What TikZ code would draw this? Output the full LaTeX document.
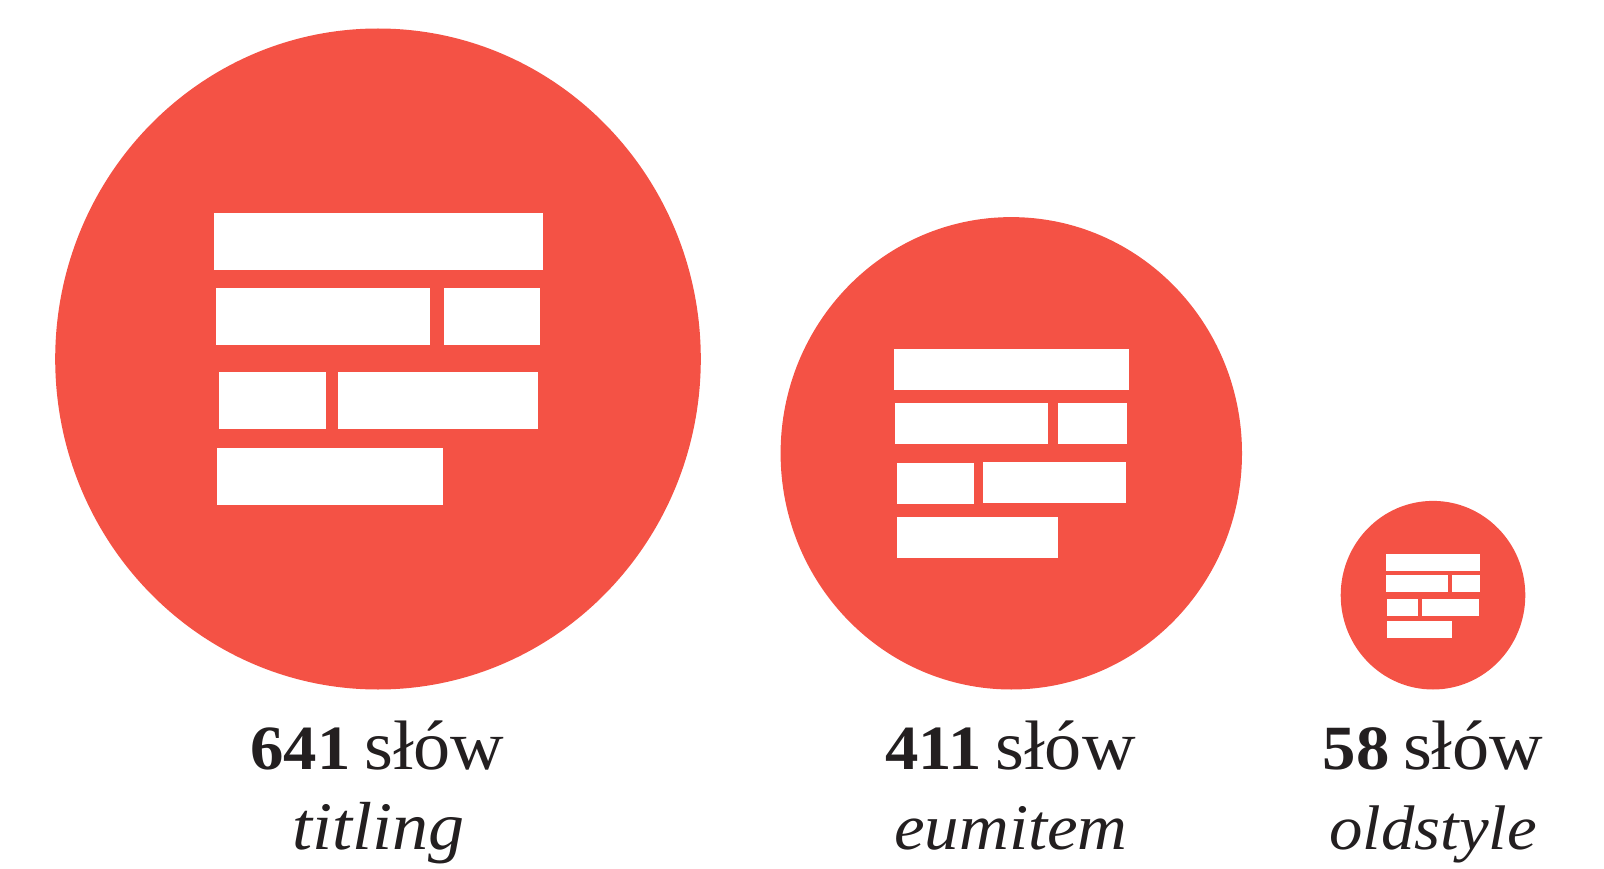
\documentclass[tikz,border=0pt]{standalone}
\usepackage{fontspec}
\setmainfont[FakeStretch=1.06]{Liberation Serif}
\definecolor{coral}{HTML}{F45245}
\definecolor{ink}{HTML}{231F20}
\newcommand{\numtxt}[2]{{\fontsize{63pt}{66pt}\selectfont\textbf{#1}}\hspace{13.5pt}{\fontsize{70pt}{66pt}\selectfont #2}}
\newcommand{\itxt}[2]{{\fontsize{#1pt}{66pt}\selectfont\textit{#2}}}
\tikzset{
  disc/.style={fill=coral,draw=none},
  bar/.style={fill=white,draw=none},
  lab/.style={anchor=base,inner sep=0pt,text=ink}
}
\begin{document}
\begin{tikzpicture}[x=1pt,y=-1pt]
\useasboundingbox (0,0) rectangle (1604,869);
% large
\fill[disc] (378,359) ellipse [x radius=322.8,y radius=330.5];
\foreach \a/\b/\c/\d in {213.8/212.8/542.7/269.8,215.8/287.8/430/344.8,444.1/287.8/540/344.8,218.8/371.8/326/428.8,337.9/371.8/538/428.8,216.8/447.8/443/504.8}
  \fill[bar] (\a,\b) rectangle (\c,\d);
% medium
\fill[disc] (1011.3,453.3) ellipse [x radius=230.7,y radius=236.2];
\foreach \a/\b/\c/\d in {893.8/348.8/1129/389.8,895.1/402.8/1048/443.8,1058/402.8/1127/443.8,896.8/462.8/974/503.8,983/461.8/1126/502.8,896.8/516.8/1058/557.8}
  \fill[bar] (\a,\b) rectangle (\c,\d);
% small
\fill[disc] (1433,595.2) ellipse [x radius=92.3,y radius=94.3];
\foreach \a/\b/\c/\d in {1386/553.8/1480/570.8,1386/574.8/1448/591.8,1452/574.8/1480/591.8,1387/598.8/1418/615.8,1422/598.8/1479/615.8,1387/620.8/1452/637.8}
  \fill[bar] (\a,\b) rectangle (\c,\d);
% labels
\node[lab] (n1) at (377.5,769.5) {\numtxt{641}{słów}};
\node[lab] (s1) at (378.5,849) {\itxt{68}{titling}};
\node[lab] (n2) at (1010.5,769.5) {\numtxt{411}{słów}};
\node[lab] (s2) at (1011,849) {\itxt{65}{eumitem}};
\node[lab] (n3) at (1433,769.5) {\numtxt{58}{słów}};
\node[lab] (s3) at (1433,849) {\itxt{63}{oldstyle}};
\end{tikzpicture}
\end{document}
